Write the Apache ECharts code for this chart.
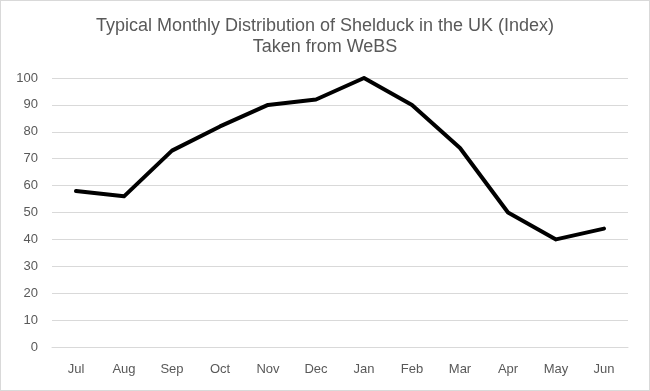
<!DOCTYPE html>
<html><head><meta charset="utf-8">
<script src="https://cdn.jsdelivr.net/npm/echarts@6/dist/echarts.min.js"></script>
<style>html,body{margin:0;padding:0;background:#fff}#c{width:650px;height:391px;box-sizing:border-box;border:1px solid #d9d9d9}</style>
</head><body><div id="c"></div>
<script>
const months = ['Jul','Aug','Sep','Oct','Nov','Dec','Jan','Feb','Mar','Apr','May','Jun'];
const indexValues = [58, 56, 73, 82, 90, 92, 100, 90, 74, 50, 40, 44];
const yTicks = {min: 0, max: 100, interval: 10};
const titleLines = ['Typical Monthly Distribution of Shelduck in the UK (Index)', 'Taken from WeBS'];

const chart = echarts.init(document.getElementById('c'), null, {renderer: 'canvas'});
chart.setOption({
  animation: false,
  title: {
    text: titleLines.join('\n'),
    left: 'center', top: 10,
    textStyle: {fontFamily: 'Liberation Sans', fontSize: 18, fontWeight: 'normal', color: '#595959', lineHeight: 21}
  },
  grid: {left: 51, right: 21, top: 77, bottom: 43},
  xAxis: {
    type: 'category', data: months, boundaryGap: true,
    axisLine: {show: true, lineStyle: {color: '#d9d9d9', width: 1}},
    axisTick: {show: false},
    axisLabel: {color: '#595959', fontFamily: 'Liberation Sans', fontSize: 13, margin: 16}
  },
  yAxis: {
    type: 'value', min: yTicks.min, max: yTicks.max, interval: yTicks.interval,
    axisLine: {show: false}, axisTick: {show: false},
    splitLine: {lineStyle: {color: '#d9d9d9', width: 1}},
    axisLabel: {color: '#595959', fontFamily: 'Liberation Sans', fontSize: 13, margin: 14}
  },
  series: [{
    type: 'line', data: indexValues, symbol: 'none',
    lineStyle: {color: '#000', width: 4, join: 'round', cap: 'round'}
  }]
});
</script></body></html>
